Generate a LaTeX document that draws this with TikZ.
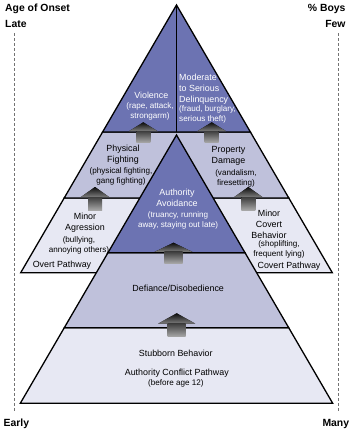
\documentclass[tikz,border=0pt]{standalone}
\usepackage{fontspec}
\setmainfont{Liberation Sans}
\usetikzlibrary{positioning}

\definecolor{bandDark}{RGB}{108,115,178}
\definecolor{bandMid}{RGB}{191,193,219}
\definecolor{bandLight}{RGB}{231,232,243}

\begin{document}
\begin{tikzpicture}[x=1pt, y=-1pt,
  band/.style={draw=black, line width=1.3pt, line join=miter},
  title/.style={font=\fontsize{8.9}{11}\selectfont, align=center, inner sep=0pt},
  sub/.style={font=\fontsize{8.1}{10}\selectfont, align=center, inner sep=0pt},
  corner/.style={font=\fontsize{10.4}{12}\selectfont\bfseries, inner sep=0pt},
  guide/.style={draw=black!55, line width=0.7pt, dash pattern=on 3pt off 2pt},
  pics/lift/.style={code={
    \fill[top color=black!95, bottom color=black!50] (0,0) -- (14.5,9) -- (-14.5,9) -- cycle;
    \fill[top color=black!75, bottom color=black!35] (-7,9) rectangle (7,20);
  }},
  node distance=2pt]

\useasboundingbox (0,0) rectangle (353,431);

% side scales
\draw[guide] (14,33) -- (14,412);
\draw[guide] (338.5,33) -- (338.5,412);
\node[corner, anchor=base west] (onset) at (5,12) {Age of Onset};
\node[corner, anchor=base west] (late) at (5,27.3) {Late};
\node[corner, anchor=base west] (early) at (3.5,426.7) {Early};
\node[corner, anchor=base east] (boys) at (345.7,12) {\% Boys};
\node[corner, anchor=base east] (few) at (345.7,27.3) {Few};
\node[corner, anchor=base east] (many) at (349.3,426.7) {Many};

% overt / covert pyramid
\filldraw[band, fill=bandLight] (64.2,198) -- (20.7,272.7) -- (332.3,272.7) -- (288.8,198) -- cycle;
\filldraw[band, fill=bandMid] (102.6,132) -- (64.2,198) -- (288.8,198) -- (250.4,132) -- cycle;
\filldraw[band, fill=bandDark] (176.5,5) -- (102.6,132) -- (250.4,132) -- cycle;
\draw[band] (176.5,5) -- (176.5,132);

% authority conflict pyramid
\filldraw[band, fill=bandLight] (64.3,327.7) -- (20.3,403.3) -- (332.7,403.3) -- (288.7,327.7) -- cycle;
\filldraw[band, fill=bandMid] (108,252.7) -- (64.3,327.7) -- (288.7,327.7) -- (245,252.7) -- cycle;
\filldraw[band, fill=bandDark] (176.5,135) -- (108,252.7) -- (245,252.7) -- cycle;

% arrows between stages
\pic (upViolence) at (143.3,122.3) {lift};
\pic (upSerious) at (211.7,122.3) {lift};
\pic[yscale=1.15] (upFighting) at (95,187) {lift};
\pic[yscale=1.15] (upDamage) at (248.3,187) {lift};
\pic[xscale=1.3, yscale=1.02] (upAvoidance) at (173.5,242.7) {lift};
\pic[xscale=1.28, yscale=1.15] (upDefiance) at (176.7,313.3) {lift};

% overt pathway
\node[title, text=white] (violence) at (151.3,95) {Violence};
\node[sub, text=white] (violenceSub) at (150,111.7) {(rape, attack,\\strongarm)};
\node[title] (fighting) at (123,154.5) {Physical\\Fighting};
\node[sub] (fightingSub) at (121,176.7) {(physical fighting,\\gang fighting)};
\node[title] (aggression) at (85,222.5) {Minor\\Agression};
\node[sub] (aggressionSub) at (79,245.3) {(bullying,\\annoying others)};
\node[title] (overt) at (62,265) {Overt Pathway};

% covert pathway
\node[title, text=white, align=left, anchor=west] (serious) at (179,89) {Moderate\\to Serious\\Delinquency};
\node[sub, text=white, align=left, anchor=west] (seriousSub) at (179,114.2) {(fraud, burglary,\\serious theft)};
\node[title] (damage) at (228.5,156.2) {Property\\Damage};
\node[sub] (damageSub) at (236,178) {(vandalism,\\firesetting)};
\node[title] (covertMinor) at (269,224.1) {Minor\\Covert\\Behavior};
\node[sub] (covertMinorSub) at (279,249) {(shoplifting,\\frequent lying)};
\node[title] (covert) at (289,266) {Covert Pathway};

% authority conflict pathway
\node[title, text=white] (avoidance) at (177,197.5) {Authority\\Avoidance};
\node[sub, text=white] (avoidanceSub) at (178,220) {(truancy, running\\away, staying out late)};
\node[title] (defiance) at (178.2,288.3) {Defiance/Disobedience};
\node[title] (stubborn) at (175.8,353.3) {Stubborn Behavior};
\node[title] (authority) at (176.8,373.3) {Authority Conflict Pathway};
\node[sub] (authoritySub) at (175.8,383.8) {(before age 12)};

\end{tikzpicture}
\end{document}
